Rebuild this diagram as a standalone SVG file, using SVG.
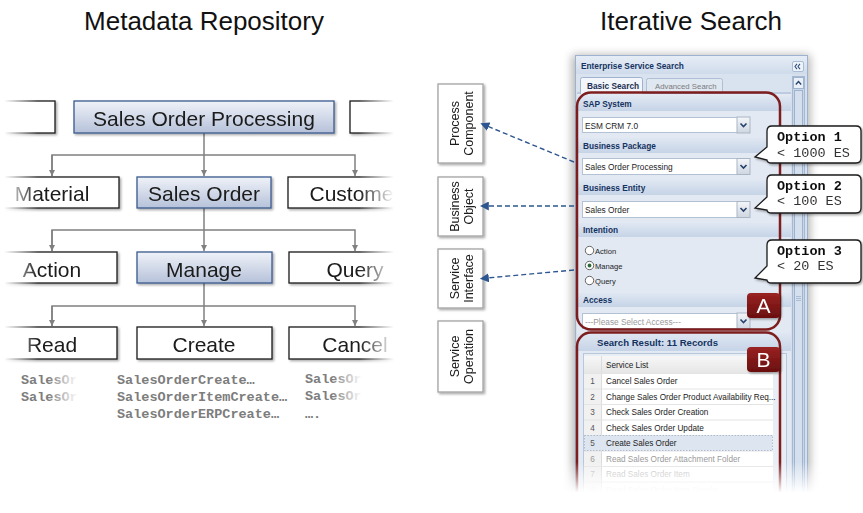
<svg xmlns="http://www.w3.org/2000/svg" width="863" height="513" viewBox="0 0 863 513">
<defs>
  <style>
    .title{font-family:"Liberation Sans",Arial,sans-serif;font-size:26px;fill:#111}
    .w{fill:#fff;stroke:#1a1a1a;stroke-width:1.3}
    .b{fill:url(#blueFill);stroke:#3a5a8e;stroke-width:1.3}
    .lbl{font-family:"Liberation Sans",Arial,sans-serif;font-size:21px;fill:#1a1a1a;text-anchor:middle}
    .code{font-family:"Liberation Mono","Courier New",monospace;font-size:13.5px;font-weight:bold;fill:#7d7d7d}
    .tree{stroke:#808080;stroke-width:1.5;fill:none}
    .dash{stroke:#2d5590;stroke-width:1.4;stroke-dasharray:5 3;fill:none}
    .vbox{fill:#fff;stroke:#a3a3a3;stroke-width:1.3}
    .vtxt{font-family:"Liberation Sans",Arial,sans-serif;font-size:12.5px;fill:#1a1a1a;text-anchor:middle}
    .ui{font-family:"Liberation Sans",Tahoma,sans-serif;font-size:8.3px;fill:#1e1e1e}
    .row{font-family:"Liberation Sans",Tahoma,sans-serif;font-size:8.2px;fill:#222}
    .num{font-family:"Liberation Sans",Tahoma,sans-serif;font-size:8.2px;fill:#555;text-anchor:middle}
    .hd{font-family:"Liberation Sans",Tahoma,sans-serif;font-size:8.3px;font-weight:bold;fill:#15335f}
    .band{fill:url(#bandFill)}
    .dd{fill:#fff;stroke:#b3c1d4;stroke-width:1}
    .red{fill:none;stroke:#7d1d1d;stroke-width:2.5}
    .tag{fill:url(#redFill)}
    .tagt{font-family:"Liberation Sans",Arial,sans-serif;font-size:21px;fill:#fff;text-anchor:middle}
    .call{fill:#fff;stroke:#1a1a1a;stroke-width:1.3}
    .opt{font-family:"Liberation Mono","Courier New",monospace;font-size:13.5px;font-weight:bold;fill:#111}
    .optv{font-family:"Liberation Mono","Courier New",monospace;font-size:13.5px;fill:#333}
    .rline{stroke:#e4e4e4;stroke-width:1}
  </style>
  <linearGradient id="blueFill" x1="0" y1="0" x2="0" y2="1">
    <stop offset="0" stop-color="#eff2f8"/>
    <stop offset="1" stop-color="#b6c2da"/>
  </linearGradient>
  <linearGradient id="bandFill" x1="0" y1="0" x2="0" y2="1">
    <stop offset="0" stop-color="#dfe7f2"/>
    <stop offset="1" stop-color="#c6d4e7"/>
  </linearGradient>
  <linearGradient id="hdrFill" x1="0" y1="0" x2="0" y2="1">
    <stop offset="0" stop-color="#e6edf6"/>
    <stop offset="1" stop-color="#cfdbeb"/>
  </linearGradient>
  <linearGradient id="redFill" x1="0" y1="0" x2="0" y2="1">
    <stop offset="0" stop-color="#9a2222"/>
    <stop offset="1" stop-color="#6a0f0f"/>
  </linearGradient>
  <linearGradient id="btnFill" x1="0" y1="0" x2="0" y2="1">
    <stop offset="0" stop-color="#f4f6f9"/>
    <stop offset="1" stop-color="#cfd6e0"/>
  </linearGradient>
  <linearGradient id="gridHead" x1="0" y1="0" x2="0" y2="1">
    <stop offset="0" stop-color="#f7f7f7"/>
    <stop offset="1" stop-color="#e6e6e6"/>
  </linearGradient>
  <linearGradient id="fadeLeft" gradientUnits="userSpaceOnUse" x1="4" y1="0" x2="38" y2="0">
    <stop offset="0" stop-color="#fff" stop-opacity="1"/>
    <stop offset="1" stop-color="#fff" stop-opacity="0"/>
  </linearGradient>
  <linearGradient id="fadeRight" gradientUnits="userSpaceOnUse" x1="359" y1="0" x2="394" y2="0">
    <stop offset="0" stop-color="#fff" stop-opacity="0"/>
    <stop offset="1" stop-color="#fff" stop-opacity="1"/>
  </linearGradient>
  <linearGradient id="codeFadeL" gradientUnits="userSpaceOnUse" x1="48" y1="0" x2="78" y2="0">
    <stop offset="0" stop-color="#7d7d7d"/>
    <stop offset="1" stop-color="#fff"/>
  </linearGradient>
  <linearGradient id="codeFadeR" gradientUnits="userSpaceOnUse" x1="332" y1="0" x2="362" y2="0">
    <stop offset="0" stop-color="#7d7d7d"/>
    <stop offset="1" stop-color="#fff"/>
  </linearGradient>
  <linearGradient id="fadeDown" x1="0" y1="0" x2="0" y2="1">
    <stop offset="0" stop-color="#fff" stop-opacity="0"/>
    <stop offset="0.6" stop-color="#fff" stop-opacity="1"/>
  </linearGradient>
  <filter id="shadow" x="-20%" y="-20%" width="140%" height="140%">
    <feDropShadow dx="1.5" dy="1.5" stdDeviation="1.2" flood-color="#000" flood-opacity="0.35"/>
  </filter>
  <filter id="soft" x="-20%" y="-20%" width="140%" height="140%">
    <feGaussianBlur stdDeviation="5"/>
  </filter>
  <marker id="grayHead" viewBox="0 0 10 10" refX="10" refY="5" markerWidth="6" markerHeight="6" orient="auto" markerUnits="userSpaceOnUse">
    <path d="M0,0 L10,5 L0,10 z" fill="#808080"/>
  </marker>
  <marker id="blueHead" viewBox="0 0 10 10" refX="2" refY="5" markerWidth="9" markerHeight="9" orient="auto-start-reverse" markerUnits="userSpaceOnUse">
    <path d="M0,0 L10,5 L0,10 z" fill="#2d5590"/>
  </marker>
  <g id="ddBtn">
    <rect x="0" y="0" width="13" height="16" fill="url(#btnFill)" stroke="#aab6c6"/>
    <path d="M3.5,6.5 L6.5,9.5 L9.5,6.5" fill="none" stroke="#24406b" stroke-width="1.6"/>
  </g>
</defs>

<rect width="863" height="513" fill="#fff"/>

<text class="title" x="204" y="30" text-anchor="middle">Metadata Repository</text>
<text class="title" x="691" y="30" text-anchor="middle">Iterative Search</text>

<!-- tree connectors -->
<g id="tree-connectors">
  <path class="tree" d="M204,133 V176" marker-end="url(#grayHead)"/>
  <path class="tree" d="M52,176 V155 H355 V176" marker-end="url(#grayHead)"/>
  <path class="tree" d="M52,155 V176" marker-end="url(#grayHead)"/>
  <path class="tree" d="M204,208 V251" marker-end="url(#grayHead)"/>
  <path class="tree" d="M52,251 V230 H355 V251" marker-end="url(#grayHead)"/>
  <path class="tree" d="M52,230 V251" marker-end="url(#grayHead)"/>
  <path class="tree" d="M204,283 V326" marker-end="url(#grayHead)"/>
  <path class="tree" d="M52,326 V306 H355 V326" marker-end="url(#grayHead)"/>
  <path class="tree" d="M52,306 V326" marker-end="url(#grayHead)"/>
</g>

<!-- level 1 -->
<g id="pkg-left" filter="url(#shadow)"><rect class="w" x="-20" y="101" width="75" height="32"/></g>
<g id="pkg-sales-order-processing" filter="url(#shadow)">
  <rect class="b" x="74" y="101" width="260" height="32"/>
  <text class="lbl" x="204" y="126">Sales Order Processing</text>
</g>
<g id="pkg-right" filter="url(#shadow)"><rect class="w" x="350" y="101" width="70" height="32"/></g>

<!-- level 2 -->
<g id="bo-material" filter="url(#shadow)">
  <rect class="w" x="-20" y="177" width="139" height="31"/>
  <text class="lbl" x="52" y="201">Material</text>
</g>
<g id="bo-sales-order" filter="url(#shadow)">
  <rect class="b" x="137" y="177" width="134" height="31"/>
  <text class="lbl" x="204" y="201">Sales Order</text>
</g>
<g id="bo-customer" filter="url(#shadow)">
  <rect class="w" x="288" y="177" width="134" height="31"/>
  <text class="lbl" x="355" y="201">Customer</text>
</g>

<!-- level 3 -->
<g id="si-action" filter="url(#shadow)">
  <rect class="w" x="-20" y="252" width="137" height="31"/>
  <text class="lbl" x="52" y="277">Action</text>
</g>
<g id="si-manage" filter="url(#shadow)">
  <rect class="b" x="137" y="252" width="135" height="31"/>
  <text class="lbl" x="204" y="277">Manage</text>
</g>
<g id="si-query" filter="url(#shadow)">
  <rect class="w" x="289" y="252" width="134" height="31"/>
  <text class="lbl" x="355" y="277">Query</text>
</g>

<!-- level 4 -->
<g id="op-read" filter="url(#shadow)">
  <rect class="w" x="-20" y="327" width="137" height="32"/>
  <text class="lbl" x="52" y="352">Read</text>
</g>
<g id="op-create" filter="url(#shadow)">
  <rect class="w" x="137" y="327" width="135" height="32"/>
  <text class="lbl" x="204" y="352">Create</text>
</g>
<g id="op-cancel" filter="url(#shadow)">
  <rect class="w" x="289" y="327" width="134" height="32"/>
  <text class="lbl" x="355" y="352">Cancel</text>
</g>

<!-- edge fades of the tree -->
<rect x="0" y="90" width="40" height="275" fill="url(#fadeLeft)"/>
<rect x="0" y="90" width="5" height="275" fill="#fff"/>
<rect x="359" y="90" width="73" height="275" fill="url(#fadeRight)"/>

<!-- operation names -->
<g id="op-names">
  <text class="code" x="21" y="384" style="fill:url(#codeFadeL)">SalesOrder</text>
  <text class="code" x="21" y="401" style="fill:url(#codeFadeL)">SalesOrder</text>
  <text class="code" x="117" y="384">SalesOrderCreate…</text>
  <text class="code" x="117" y="401">SalesOrderItemCreate…</text>
  <text class="code" x="117" y="418">SalesOrderERPCreate…</text>
  <text class="code" x="305" y="383" style="fill:url(#codeFadeR)">SalesOrder</text>
  <text class="code" x="305" y="400" style="fill:url(#codeFadeR)">SalesOrder</text>
  <text class="code" x="305" y="418">….</text>
</g>

<!-- vertical entity labels -->
<g id="lbl-process-component" filter="url(#shadow)">
  <rect class="vbox" x="438" y="84" width="45" height="79"/>
  <text class="vtxt" transform="translate(460.5,123.5) rotate(-90)"><tspan x="0" y="-2">Process</tspan><tspan x="0" y="12">Component</tspan></text>
</g>
<g id="lbl-business-object" filter="url(#shadow)">
  <rect class="vbox" x="438" y="177" width="45" height="59"/>
  <text class="vtxt" transform="translate(460.5,206.5) rotate(-90)"><tspan x="0" y="-2">Business</tspan><tspan x="0" y="12">Object</tspan></text>
</g>
<g id="lbl-service-interface" filter="url(#shadow)">
  <rect class="vbox" x="438" y="249" width="45" height="59"/>
  <text class="vtxt" transform="translate(460.5,278.5) rotate(-90)"><tspan x="0" y="-2">Service</tspan><tspan x="0" y="12">Interface</tspan></text>
</g>
<g id="lbl-service-operation" filter="url(#shadow)">
  <rect class="vbox" x="438" y="321" width="45" height="71"/>
  <text class="vtxt" transform="translate(460.5,356.5) rotate(-90)"><tspan x="0" y="-2">Service</tspan><tspan x="0" y="12">Operation</tspan></text>
</g>

<!-- search panel -->
<g id="search-panel">
  <rect x="572" y="55" width="238" height="450" fill="#000" opacity="0.3" filter="url(#soft)"/>
  <rect x="575.5" y="55.5" width="232" height="452" fill="#d6e0ed" stroke="#9db2cf"/>
  <rect x="576" y="56" width="231" height="18" fill="url(#hdrFill)"/>
  <text class="hd" x="581" y="68.5">Enterprise Service Search</text>
  <rect x="792.5" y="61.5" width="11" height="10" rx="1.5" fill="#eef3fa" stroke="#a9bcd6"/>
  <path d="M797,63.8 L795,66.5 L797,69.2 M800,63.8 L798,66.5 L800,69.2" fill="none" stroke="#34507c" stroke-width="1.1"/>
  <!-- tabs -->
  <rect x="576" y="74" width="216" height="19" fill="#d9e2ef"/>
  <rect x="646.5" y="78.5" width="76" height="15" rx="2" fill="#dfe7f1" stroke="#aebfd6"/>
  <text class="ui" x="655" y="89" style="fill:#7b7b7b;font-size:7.8px">Advanced Search</text>
  <rect x="577" y="92.5" width="214" height="1" fill="#9fb3cf"/>
  <rect x="580.5" y="77.5" width="62" height="17" rx="2" fill="#f2f5fa" stroke="#9fb3cf"/>
  <rect x="581" y="92" width="61" height="3" fill="#f2f5fa"/>
  <text class="hd" x="587" y="88.5" style="fill:#1c2f52">Basic Search</text>
  <!-- content -->
  <rect x="577" y="94" width="214" height="412" fill="#e2e9f3"/>
  <!-- scrollbar -->
  <rect x="792.5" y="76.5" width="12" height="431" fill="#c9d6e8" stroke="#a7b9d2"/>
  <rect x="793.5" y="77.5" width="10" height="11" fill="#eaf0f8" stroke="#9fb3cf"/>
  <path d="M795.8,84.5 L798.5,81.5 L801.2,84.5" fill="none" stroke="#24406b" stroke-width="1.3"/>
  <rect x="794.5" y="90.5" width="8" height="420" fill="#d5e0ee" stroke="#9fb3cf"/>
  <path d="M796,296.5 H801 M796,298.5 H801 M796,300.5 H801" stroke="#9fb3cf" stroke-width="0.8"/>

  <!-- form sections -->
  <rect class="band" x="577" y="96" width="214" height="15"/>
  <text class="hd" x="583" y="107">SAP System</text>
  <rect class="dd" x="582.5" y="117.5" width="167" height="15"/>
  <text class="ui" x="585" y="128.5">ESM CRM 7.0</text>
  <use href="#ddBtn" x="737" y="117"/>

  <rect class="band" x="577" y="138" width="214" height="15"/>
  <text class="hd" x="583" y="149">Business Package</text>
  <rect class="dd" x="582.5" y="158.5" width="167" height="16"/>
  <text class="ui" x="585" y="170">Sales Order Processing</text>
  <use href="#ddBtn" x="737" y="158.5"/>

  <rect class="band" x="577" y="180" width="214" height="15"/>
  <text class="hd" x="583" y="191">Business Entity</text>
  <rect class="dd" x="582.5" y="201.5" width="167" height="16"/>
  <text class="ui" x="585" y="213">Sales Order</text>
  <use href="#ddBtn" x="737" y="201.5"/>

  <rect class="band" x="577" y="223" width="214" height="14"/>
  <text class="hd" x="583" y="233">Intention</text>
  <circle cx="589.5" cy="250.5" r="4.2" fill="#fff" stroke="#555" stroke-width="0.9"/>
  <text class="ui" x="595" y="253.5" style="font-size:7.6px">Action</text>
  <circle cx="589.5" cy="265.5" r="4.2" fill="#fff" stroke="#555" stroke-width="0.9"/>
  <circle cx="589.5" cy="265.5" r="1.9" fill="#2f6a3a"/>
  <text class="ui" x="595" y="268.5" style="font-size:7.6px">Manage</text>
  <circle cx="589.5" cy="280.5" r="4.2" fill="#fff" stroke="#555" stroke-width="0.9"/>
  <text class="ui" x="595" y="283.5" style="font-size:7.6px">Query</text>

  <rect class="band" x="577" y="293" width="214" height="14"/>
  <text class="hd" x="583" y="303">Access</text>
  <rect class="dd" x="582.5" y="313.5" width="167" height="15"/>
  <text class="ui" x="585" y="324.5" style="fill:#9a9a9a">---Please Select Access---</text>
  <use href="#ddBtn" x="737" y="313"/>

  <!-- results -->
  <rect class="band" x="577" y="333" width="214" height="18"/>
  <text class="hd" x="597" y="346" style="font-size:9.6px">Search Result: 11 Records</text>
  <rect x="583.5" y="353.5" width="203" height="160" fill="#e9eef5" stroke="#b7c7dc"/>
  <rect x="584" y="356" width="189" height="150" fill="#fff"/>
  <rect x="584" y="356" width="189" height="17" fill="url(#gridHead)"/>
  <rect x="584" y="373" width="17" height="133" fill="#f1f1f1"/>
  <path d="M601.5,356 V506" stroke="#dcdcdc"/>
  <text class="row" x="606" y="368">Service List</text>
  <path class="rline" d="M584,373.5 H773 M584,389 H773 M584,404.5 H773 M584,420 H773 M584,435.5 H773 M584,451 H773 M584,466.5 H773 M584,482 H773 M584,497.5 H773"/>
  <rect x="584.5" y="435.5" width="188" height="15" fill="#dde5f0" stroke="#9fb0c8" stroke-width="0.8" stroke-dasharray="1.5 1.5"/>
  <text class="num" x="592.5" y="384">1</text><text class="row" x="606" y="384">Cancel Sales Order</text>
  <text class="num" x="592.5" y="399.5">2</text><text class="row" x="606" y="399.5">Change Sales Order Product Availability Req...</text>
  <text class="num" x="592.5" y="415">3</text><text class="row" x="606" y="415">Check Sales Order Creation</text>
  <text class="num" x="592.5" y="430.5">4</text><text class="row" x="606" y="430.5">Check Sales Order Update</text>
  <text class="num" x="592.5" y="446">5</text><text class="row" x="606" y="446">Create Sales Order</text>
  <text class="num" x="592.5" y="461.5" style="fill:#9a9a9a">6</text><text class="row" x="606" y="461.5" style="fill:#9a9a9a">Read Sales Order Attachment Folder</text>
  <text class="num" x="592.5" y="477" style="fill:#bdbdbd">7</text><text class="row" x="606" y="477" style="fill:#bdbdbd">Read Sales Order Item</text>
  <text class="num" x="592.5" y="492.5" style="fill:#dcdcdc">8</text><text class="row" x="606" y="492.5" style="fill:#dcdcdc">Read Sales Order Item Simple</text>

  <!-- highlight frames -->
  <rect class="red" x="577" y="92.5" width="203" height="237" rx="14"/>
  <rect class="red" x="577" y="332.5" width="203" height="180" rx="14"/>
  <g id="tag-a" filter="url(#shadow)">
    <rect class="tag" x="747" y="293" width="33" height="25" rx="4"/>
    <text class="tagt" x="763.5" y="313">A</text>
  </g>
  <g id="tag-b" filter="url(#shadow)">
    <rect class="tag" x="747" y="347" width="33" height="25" rx="4"/>
    <text class="tagt" x="763.5" y="367">B</text>
  </g>
</g>

<!-- panel bottom fade -->
<rect x="540" y="462" width="323" height="51" fill="url(#fadeDown)"/>

<!-- mapping connectors -->
<g id="mapping-connectors">
  <path class="dash" d="M574,162 L487,126" marker-end="url(#blueHead)"/>
  <path class="dash" d="M574,206 L487,206" marker-end="url(#blueHead)"/>
  <path class="dash" d="M574,270 L487,278" marker-end="url(#blueHead)"/>
</g>

<!-- option callouts -->
<g id="option-1" filter="url(#shadow)">
  <path class="call" d="M772,126 H856 Q861,126 861,131 V158 Q861,163 856,163 H772 Q767,163 767,160 L755,157 L767,147 V131 Q767,126 772,126 Z"/>
  <text class="opt" x="777" y="141">Option 1</text>
  <text class="optv" x="777" y="157">&lt; 1000 ES</text>
</g>
<g id="option-2" filter="url(#shadow)">
  <path class="call" d="M772,175 H856 Q861,175 861,180 V208 Q861,213 856,213 H772 Q767,213 767,210 L755,208 L767,197 V180 Q767,175 772,175 Z"/>
  <text class="opt" x="777" y="190">Option 2</text>
  <text class="optv" x="777" y="205">&lt; 100 ES</text>
</g>
<g id="option-3" filter="url(#shadow)">
  <path class="call" d="M772,240 H856 Q861,240 861,245 V278 Q861,283 856,283 H772 Q767,283 767,280 L755,278 L767,266 V245 Q767,240 772,240 Z"/>
  <text class="opt" x="777" y="255">Option 3</text>
  <text class="optv" x="777" y="270">&lt; 20 ES</text>
</g>
</svg>
